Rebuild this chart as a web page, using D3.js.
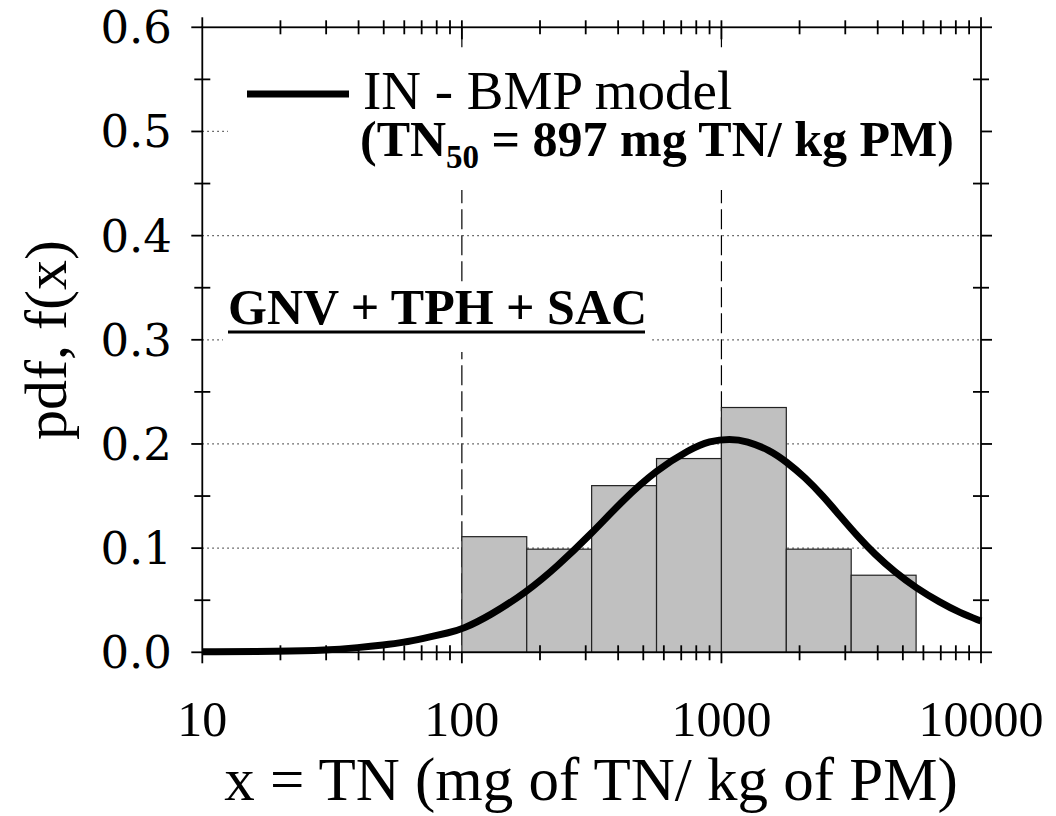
<!DOCTYPE html>
<html>
<head>
<meta charset="utf-8">
<script src="https://cdn.jsdelivr.net/npm/d3@7"></script>
<style>
  body { margin: 0; background: #fff; }
  text { font-family: "Liberation Serif", "Times New Roman", serif; fill: #000; }
</style>
</head>
<body>
<svg id="chart" width="1056" height="816"></svg>
<script>
// histogram bins (quarter decades) and relative frequency
let binEdges = [100, 177.8, 316.2, 562.3, 1000, 1778, 3162, 5623];
let binHeights = [0.111, 0.099, 0.160, 0.186, 0.235, 0.099, 0.074];

// fitted pdf curve
let curveX = [10, 20, 30, 40, 50, 60, 70, 90, 100, 128, 178, 232, 316, 417, 562, 756, 900,
  1079, 1250, 1538, 1778, 2098, 2461, 2860, 3356, 3900, 4656, 5610, 6940, 8290, 10000];
let curveY = [0.0005, 0.001, 0.002, 0.0045, 0.007, 0.0096, 0.013, 0.019, 0.022, 0.035, 0.058, 0.082,
  0.114, 0.146, 0.175, 0.195, 0.203, 0.205, 0.203, 0.194, 0.183, 0.168, 0.150, 0.131, 0.111,
  0.094, 0.077, 0.062, 0.048, 0.038, 0.030];

let xMajor = [10, 100, 1000, 10000];
let xMinor = [20, 30, 40, 50, 60, 70, 80, 90, 200, 300, 400, 500, 600, 700, 800, 900,
  2000, 3000, 4000, 5000, 6000, 7000, 8000, 9000];
let yMajor = [0, 0.1, 0.2, 0.3, 0.4, 0.5, 0.6];
let yMinor = [0.05, 0.15, 0.25, 0.35, 0.45, 0.55];
let yGrid = [0.1, 0.2, 0.3, 0.4, 0.5];
let xDashed = [100, 1000];

let svg = d3.select("#chart");
let pL = 202.3, pR = 981, pT = 27.3, pB = 652.3;

let x = d3.scaleLog().domain([10, 10000]).range([pL, pR]);
let y = d3.scaleLinear().domain([0, 0.6]).range([pB, pT]);

// dotted horizontal gridlines
svg.selectAll(".hgrid").data(yGrid).enter().append("line")
  .attr("x1", pL).attr("x2", pR)
  .attr("y1", d => y(d)).attr("y2", d => y(d))
  .attr("stroke", "#444").attr("stroke-width", 1.2)
  .attr("stroke-dasharray", "1.5,3.5");

// dashed verticals at 100 and 1000
svg.selectAll(".vgrid").data(xDashed).enter().append("line")
  .attr("x1", d => x(d)).attr("x2", d => x(d))
  .attr("y1", pT).attr("y2", pB)
  .attr("stroke", "#000").attr("stroke-width", 1.2)
  .attr("stroke-dasharray", "20,6");

// white boxes behind legend and label
svg.append("rect").attr("x", 228).attr("y", 48).attr("width", 751).attr("height", 142).attr("fill", "#fff");
svg.append("rect").attr("x", 223).attr("y", 285).attr("width", 427).attr("height", 67).attr("fill", "#fff");

// bars
let bars = binHeights.map((h, i) => ({x0: binEdges[i], x1: binEdges[i + 1], h: h}));
svg.selectAll(".bar").data(bars).enter().append("rect")
  .attr("x", d => x(d.x0))
  .attr("width", d => x(d.x1) - x(d.x0))
  .attr("y", d => y(d.h))
  .attr("height", d => y(0) - y(d.h))
  .attr("fill", "#c0c0c0")
  .attr("stroke", "#222").attr("stroke-width", 1.2);

// pdf curve
let pts = curveX.map((v, i) => [v, curveY[i]]);
let line = d3.line().x(d => x(d[0])).y(d => y(d[1])).curve(d3.curveBasis);
svg.append("path").datum(pts).attr("d", line)
  .attr("fill", "none").attr("stroke", "#000").attr("stroke-width", 7);

// frame
svg.append("rect").attr("x", pL).attr("y", pT)
  .attr("width", pR - pL).attr("height", pB - pT)
  .attr("fill", "none").attr("stroke", "#000").attr("stroke-width", 1.8);

// ticks helper
function ticks(vals, x1, y1, x2, y2) {
  svg.append("g").selectAll("line").data(vals).enter().append("line")
    .attr("x1", x1).attr("y1", y1).attr("x2", x2).attr("y2", y2)
    .attr("stroke", "#000").attr("stroke-width", 1.8);
}
// bottom
ticks(xMinor, d => x(d), pB - 7, d => x(d), pB + 8);
ticks(xMajor, d => x(d), pB, d => x(d), pB + 11);
// top
ticks(xMinor, d => x(d), pT - 7, d => x(d), pT + 7);
ticks([10, 10000], d => x(d), pT - 10, d => x(d), pT);
ticks([100, 1000], d => x(d), pT - 7, d => x(d), pT + 12);
// left and right
ticks(yMinor, pL - 8, d => y(d), pL + 8, d => y(d));
ticks(yMajor, pL - 11, d => y(d), pL, d => y(d));
ticks(yMinor, pR - 8, d => y(d), pR + 8, d => y(d));
ticks(yMajor, pR, d => y(d), pR + 11, d => y(d));

// tick labels
svg.selectAll(".xl").data(xMajor).enter().append("text")
  .attr("x", d => x(d)).attr("y", 736)
  .attr("text-anchor", "middle").style("font-size", "50px")
  .text(d => d);
svg.selectAll(".yl").data(yMajor).enter().append("text")
  .attr("x", 172).attr("y", d => y(d) + 16)
  .attr("text-anchor", "end")
  .style("font-family", "'DejaVu Serif', serif").style("font-size", "45px")
  .text(d => d3.format(".1f")(d));

// axis titles
svg.append("text").attr("x", 591).attr("y", 800)
  .attr("text-anchor", "middle").style("font-size", "61px")
  .text("x = TN (mg of TN/ kg of PM)");
svg.append("text").attr("transform", "translate(66,340) rotate(-90)")
  .attr("text-anchor", "middle").style("font-size", "60px")
  .text("pdf, f(x)");

// legend
svg.append("line").attr("x1", 247).attr("x2", 349).attr("y1", 94).attr("y2", 94)
  .attr("stroke", "#000").attr("stroke-width", 7);
svg.append("text").attr("x", 363).attr("y", 109).style("font-size", "55px")
  .text("IN - BMP model");
let t2 = svg.append("text").attr("x", 360).attr("y", 156)
  .style("font-size", "50px").style("font-weight", "bold");
t2.append("tspan").text("(TN");
t2.append("tspan").attr("dy", 12).style("font-size", "33px").text("50");
t2.append("tspan").attr("dy", -12).text(" = 897 mg TN/ kg PM)");

// dataset label
svg.append("text").attr("x", 228).attr("y", 324)
  .style("font-size", "50px").style("font-weight", "bold")
  .text("GNV + TPH + SAC");
svg.append("line").attr("x1", 228).attr("x2", 645).attr("y1", 332).attr("y2", 332)
  .attr("stroke", "#000").attr("stroke-width", 3);
</script>
</body>
</html>
